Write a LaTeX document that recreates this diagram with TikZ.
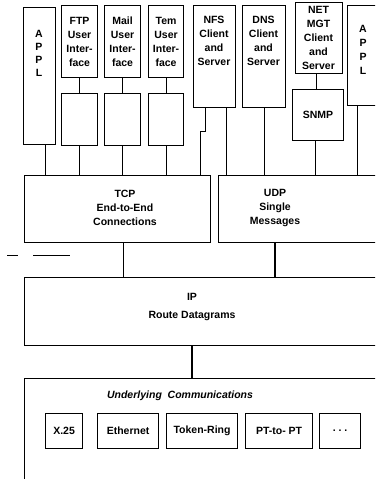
\documentclass[tikz,border=0pt]{standalone}
\usepackage{fontspec}
\setsansfont{Liberation Sans}
\usetikzlibrary{positioning,calc}
\begin{document}
\begin{tikzpicture}[x=1pt,y=-1pt,font=\sffamily\bfseries\fontsize{10.5}{14}\selectfont,node distance=15pt,
  box/.style={draw,line width=1.1pt,inner sep=0pt,align=center,anchor=north west},
  lowbox/.style={draw,line width=1.1pt,inner sep=0pt,minimum height=52},
  netbox/.style={draw,line width=1.1pt,inner sep=0pt,minimum height=35,anchor=north west},
  lbl/.style={align=center,inner sep=0pt},
  wire/.style={line width=1.1pt}]
\clip (0,0) rectangle (375,479);
% application row
\node[box,minimum width=32,minimum height=137] (applL) at (23,7) {};
\node[lbl,font=\sffamily\bfseries\fontsize{10.5}{13}\selectfont] (applLt) at (39,53) {A\\P\\P\\L};
\node[box,minimum width=36,minimum height=72] (ftp) at (61,5) {FTP\\User\\Inter-\\face};
\node[box,minimum width=36,minimum height=72] (mail) at (104,5) {Mail\\User\\Inter-\\face};
\node[box,minimum width=35,minimum height=72] (tem) at (148,5) {Tem\\User\\Inter-\\face};
\node[lowbox,minimum width=36,below=of ftp] (ftp-low) {};
\node[lowbox,minimum width=36,below=of mail] (mail-low) {};
\node[lowbox,minimum width=35,below=of tem] (tem-low) {};
\node[box,minimum width=42,minimum height=102] (nfs) at (193,5) {};
\node[lbl] (nfst) at (214,40.5) {NFS\\Client\\and\\Server};
\node[box,minimum width=43,minimum height=102] (dns) at (242,5) {};
\node[lbl] (dnst) at (263.5,40.5) {DNS\\Client\\and\\Server};
\node[box,minimum width=47,minimum height=71] (netmgt) at (295,2) {};
\node[lbl] (netmgtt) at (318.5,38) {NET\\MGT\\Client\\and\\Server};
\node[box,minimum width=51,minimum height=51] (snmp) at (292,89) {SNMP};
\node[box,minimum width=32,minimum height=100] (applR) at (347,5) {};
\node[lbl,font=\sffamily\bfseries\fontsize{10.5}{14}\selectfont] (applRt) at (363,49.5) {A\\P\\P\\L};
% transport, internet, link
\node[box,minimum width=186,minimum height=67] (tcp) at (24,175) {};
\node[lbl] (tcpt) at (125,207.5) {TCP\\End-to-End\\Connections};
\node[box,minimum width=170,minimum height=67] (udp) at (218,175) {};
\node[lbl] (udpt) at (275,207.5) {UDP\\Single\\Messages};
\node[box,minimum width=365,minimum height=68] (ip) at (24,277) {};
\node[lbl] (ipt) at (192,307) {IP\\[4pt]Route Datagrams};
\node[box,minimum width=365,minimum height=120] (ul) at (24,378) {};
\node[lbl,font=\sffamily\bfseries\itshape\fontsize{10.5}{14}\selectfont] (ult) at (180,396) {Underlying\ \ Communications};
\node[netbox,minimum width=37] (x25) at (45,413) {X.25};
\node[netbox,minimum width=61] (eth) at (97,413) {Ethernet};
\node[netbox,minimum width=71] (tok) at (166,413) {Token-Ring};
\node[netbox,minimum width=67] (ptp) at (245,413) {PT-to- PT};
\node[netbox,minimum width=41] (more) at (319,413) {.\ .\ .};
% connectors
\draw[wire] ([xshift=6pt]applL.south) -- ([xshift=6pt]applL.south |- tcp.north);
\foreach \n in {ftp,mail,tem} {
  \draw[wire] (\n.south) -- (\n-low.north);
  \draw[wire] (\n-low.south) -- (\n-low.south |- tcp.north);
}
\draw[wire] ([xshift=-9pt]nfs.south) -- ++(0,23) -- ++(-5,0) -- ([xshift=-14pt]nfs.south |- tcp.north);
\draw[wire] ([xshift=12pt]nfs.south) -- ([xshift=12pt]nfs.south |- udp.north);
\draw[wire] (dns.south) -- (dns.south |- udp.north);
\draw[wire] ([xshift=-3pt]netmgt.south) -- ([xshift=-3pt]netmgt.south |- snmp.north);
\draw[wire] ([xshift=-3pt]snmp.south) -- ([xshift=-3pt]snmp.south |- udp.north);
\draw[wire] ([xshift=-6pt]applR.south) -- ([xshift=-6pt]applR.south |- udp.north);
\draw[wire] ([xshift=6pt]tcp.south) -- ([xshift=6pt]tcp.south |- ip.north);
\draw[wire] ([xshift=57pt]udp.south west) -- ([xshift=57pt]udp.south west |- ip.north);
\draw[wire] ([xshift=168pt]ip.south west) -- ([xshift=168pt]ip.south west |- ul.north);
% stray marks
\draw[line width=0.8pt] (7,255) -- (18,255) (33,255) -- (70,255);
\end{tikzpicture}
\end{document}
